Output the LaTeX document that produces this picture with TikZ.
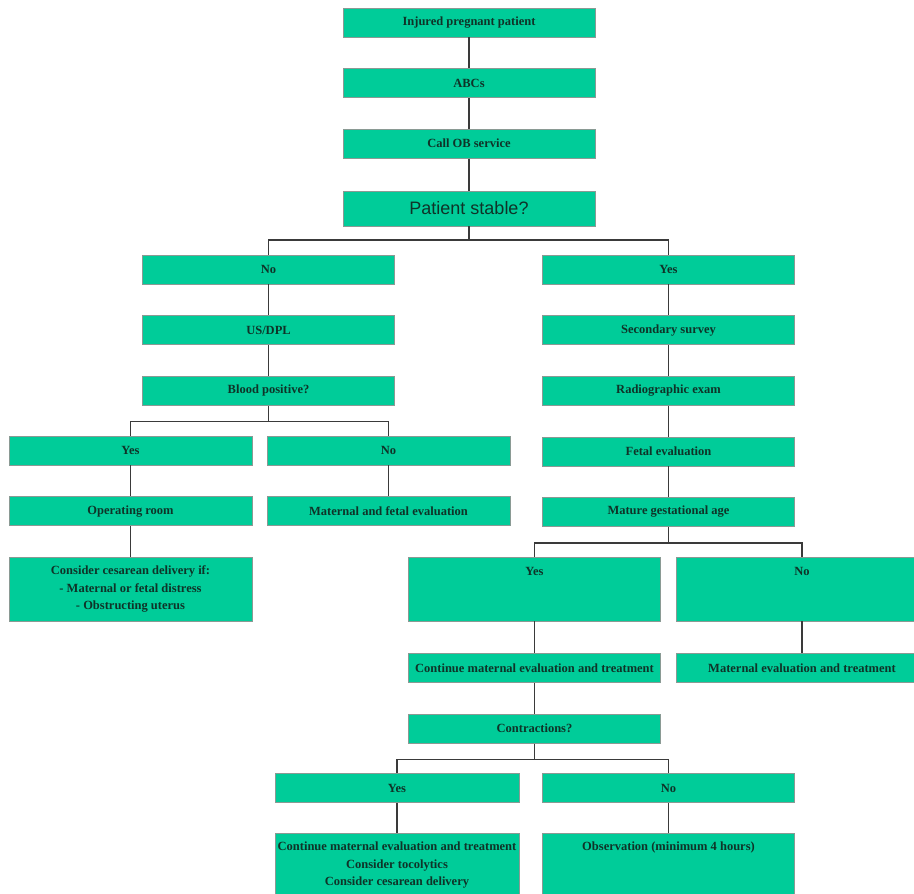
\documentclass[tikz,border=0pt]{standalone}
\usepackage{fontspec}
\setmainfont{Liberation Serif}
\setsansfont{Liberation Sans}
\usetikzlibrary{positioning}
\definecolor{verdeagua}{HTML}{00CC99}
\definecolor{borde}{HTML}{8A9A94}
\definecolor{tinta}{HTML}{0F3328}
\definecolor{trazo}{HTML}{3A3A3A}

\begin{document}
\begin{tikzpicture}[x=1pt,y=1pt,
      caja/.style={draw=borde,fill=verdeagua,line width=0.6pt,
                   minimum width=252pt,minimum height=29pt,inner xsep=1pt,
                   align=center,text=tinta,font=\fontsize{12.5}{17.5}\selectfont\bfseries},
      estrecha/.style={caja,minimum width=243pt},
      alta/.style={minimum height=64pt},
      rotulo/.style={text=tinta,font=\fontsize{12.5}{17.5}\selectfont\bfseries,
                     minimum height=29pt,inner sep=0pt,anchor=north},
      linea/.style={line width=1.6pt,trazo},
      node distance=31pt]
    \useasboundingbox (0,0) rectangle (914,-894);
    \clip (0,0) rectangle (914,-894);
    \node[caja] (herida) at (469,-22.5) {Injured pregnant patient};
    \node[caja,below=of herida] (abc) {ABCs};
    \node[caja,below=of abc] (obstet) {Call OB service};
    \node[caja,below=32pt of obstet,minimum height=35pt,
          font=\sffamily\fontsize{18}{20}\selectfont] (estable) {Patient stable?};
    % rama inestable
    \node[caja] (inest) at (268.5,-269.5) {No};
    \node[caja,below=of inest] (usdpl) {US/DPL};
    \node[caja,below=of usdpl] (sangre) {Blood positive?};
    \node[estrecha] (sangresi) at (130.5,-450.5) {Yes};
    \node[estrecha] (sangreno) at (388.5,-450.5) {No};
    \node[estrecha,below=of sangresi] (quirofano) {Operating room};
    \node[estrecha,alta,below=of quirofano] (cesarea) {Consider cesarean delivery if:\\- Maternal or fetal distress\\- Obstructing uterus};
    \node[estrecha,below=of sangreno] (evalmf) {Maternal and fetal evaluation};
    % rama estable
    \node[caja] (est) at (668.5,-269.5) {Yes};
    \node[caja,below=of est] (secund) {Secondary survey};
    \node[caja,below=of secund] (radio) {Radiographic exam};
    \node[caja,below=of radio] (fetal) {Fetal evaluation};
    \node[caja,below=of fetal] (madura) {Mature gestational age};
    \node[caja,alta,label={[rotulo]north:Yes}] (madurasi) at (534.5,-589) {};
    \node[caja,alta,label={[rotulo]north:No}] (madurano) at (802,-589) {};
    \node[caja,below=32pt of madurasi] (continua) {Continue maternal evaluation and treatment};
    \node[caja,below=32pt of madurano] (evalm) {Maternal evaluation and treatment};
    \node[caja,below=of continua] (contrac) {Contractions?};
    \node[estrecha,minimum width=244pt] (contracsi) at (397,-788) {Yes};
    \node[caja] (contracno) at (668.5,-788) {No};
    \node[estrecha,minimum width=244pt,alta,below=30pt of contracsi] (tocol) {Continue maternal evaluation and treatment\\Consider tocolytics\\Consider cesarean delivery};
    \node[caja,alta,below=30pt of contracno,label={[rotulo]north:Observation (minimum 4 hours)}] (observa) {};
    % conectores
    \draw[linea] (herida) -- (abc);
    \draw[linea] (abc) -- (obstet);
    \draw[linea] (obstet) -- (estable);
    \draw[linea] (estable.south) -- ++(0,-14) coordinate (r1);
    \draw[linea] (inest.north) |- (r1) -| (est.north);
    \draw[linea] (inest) -- (usdpl);
    \draw[linea] (usdpl) -- (sangre);
    \draw[linea] (sangre.south) -- ++(0,-16) coordinate (r2);
    \draw[linea] (sangresi.north) |- (r2) -| (sangreno.north);
    \draw[linea] (sangresi) -- (quirofano);
    \draw[linea] (quirofano) -- (cesarea);
    \draw[linea] (sangreno) -- (evalmf);
    \draw[linea] (est) -- (secund);
    \draw[linea] (secund) -- (radio);
    \draw[linea] (radio) -- (fetal);
    \draw[linea] (fetal) -- (madura);
    \draw[linea] (madura.south) -- ++(0,-16) coordinate (r3);
    \draw[linea] (madurasi.north) |- (r3) -| (madurano.north);
    \draw[linea] (madurasi) -- (continua);
    \draw[linea] (madurano) -- (evalm);
    \draw[linea] (continua) -- (contrac);
    \draw[linea] (contrac.south) -- ++(0,-16) coordinate (r4);
    \draw[linea] (contracsi.north) |- (r4) -| (contracno.north);
    \draw[linea] (contracsi) -- (tocol);
    \draw[linea] (contracno) -- (observa);
\end{tikzpicture}
\end{document}
